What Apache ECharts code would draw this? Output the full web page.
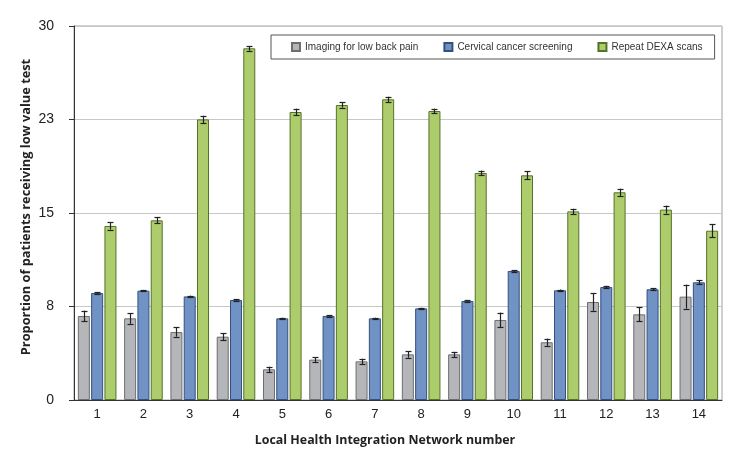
<!DOCTYPE html>
<html><head><meta charset="utf-8">
<script src="https://cdn.jsdelivr.net/npm/echarts@6/dist/echarts.min.js"></script>
<style>html,body{margin:0;padding:0;background:#fff}#c{width:748px;height:474px}</style>
</head><body><div id="c"></div>
<script>
const categories = ['1','2','3','4','5','6','7','8','9','10','11','12','13','14'];
const seriesNames = ['Imaging for low back pain','Cervical cancer screening','Repeat DEXA scans'];
const imaging = [6.74,6.55,5.45,5.08,2.46,3.24,3.10,3.66,3.66,6.42,4.63,7.86,6.87,8.29];
const imagingErr = [0.43,0.43,0.37,0.27,0.21,0.21,0.21,0.27,0.21,0.59,0.29,0.70,0.56,0.96];
const cervical = [8.58,8.77,8.31,8.02,6.55,6.74,6.55,7.35,7.94,10.35,8.80,9.06,8.88,9.44];
const cervicalErr = [0.06,0.06,0.06,0.05,0.05,0.05,0.05,0.05,0.05,0.08,0.06,0.10,0.07,0.16];
const dexa = [13.96,14.41,22.51,28.21,23.10,23.66,24.12,23.18,18.21,18.02,15.13,16.66,15.27,13.58];
const dexaErr = [0.29,0.24,0.29,0.19,0.27,0.21,0.21,0.19,0.19,0.32,0.21,0.29,0.32,0.51];
const yTickLabels = ['0','8','15','23','30'];

const colors = ['#b5b6b9','#7092c5','#adcc6b'];
const borders = ['#6e6e70','#33507f','#55722a'];
const BAR_W = 12, BAR_GAP = 1.3;

const chart = echarts.init(document.getElementById('c'), null, {renderer:'canvas'});

function errSeries(vals, errs, idx) {
  const data = vals.map((v,i)=>[i, v - errs[i], v + errs[i]]);
  return {
    type:'custom', name: seriesNames[idx] + ' err', silent:true, z:10,
    data: data,
    encode:{x:0, y:[1,2]},
    renderItem: function(params, api){
      const x = api.value(0);
      const lo = api.coord([x, api.value(1)]);
      const hi = api.coord([x, api.value(2)]);
      const off = (idx - 1) * (BAR_W + BAR_GAP);
      const cx = Math.round(lo[0] + off) + 0.5;
      const hw = 3;
      const st = {stroke:'#222', lineWidth:1.2};
      return {type:'group', children:[
        {type:'line', shape:{x1:cx, y1:lo[1], x2:cx, y2:hi[1]}, style:st},
        {type:'line', shape:{x1:cx-hw, y1:Math.round(lo[1])+0.5, x2:cx+hw, y2:Math.round(lo[1])+0.5}, style:st},
        {type:'line', shape:{x1:cx-hw, y1:Math.round(hi[1])+0.5, x2:cx+hw, y2:Math.round(hi[1])+0.5}, style:st}
      ]};
    }
  };
}

function barSeries(vals, idx){
  return {
    type:'bar', name: seriesNames[idx], data: vals,
    barWidth: BAR_W, barGap: (BAR_GAP/BAR_W*100).toFixed(1)+'%',
    itemStyle:{color:colors[idx], borderColor:borders[idx], borderWidth:1},
    emphasis:{disabled:true}
  };
}

chart.setOption({
  animation:false,
  textStyle:{fontFamily:'Liberation Sans, Arial, sans-serif'},
  grid:{left:74, right:26, top:26, bottom:74, show:true, borderColor:'#a0a0a0', borderWidth:1},
  legend:{
    data: seriesNames,
    left:271, top:35,
    itemWidth:8, itemHeight:8, itemGap:25,
    padding:[7,12,7,20],
    borderColor:'#555', borderWidth:1,
    icon:'rect',
    textStyle:{fontSize:10, color:'#333', fontFamily:'Liberation Sans, Arial, sans-serif'}
  },
  xAxis:{
    type:'category', data: categories,
    axisLine:{lineStyle:{color:'#333', width:1}},
    axisTick:{show:false},
    axisLabel:{color:'#222', fontSize:13, margin:8},
    name:'Local Health Integration Network number',
    nameLocation:'middle', nameGap:34, nameMoveOverlap:false,
    nameTextStyle:{fontFamily:'Open Sans, Noto Sans, sans-serif', fontWeight:'bold', fontSize:12.4, color:'#222', padding:[0,26,0,0]}
  },
  yAxis:{
    type:'value', min:0, max:30, interval:7.5,
    axisLine:{show:true, lineStyle:{color:'#333', width:1}},
    axisTick:{show:true, length:5, lineStyle:{color:'#333'}},
    axisLabel:{color:'#222', fontSize:14, margin:20,
      formatter: function(v){ return yTickLabels[Math.round(v/7.5)]; }},
    splitLine:{lineStyle:{color:'#c8c8c8', width:1}},
    name:'Proportion of patients receiving low value test',
    nameLocation:'middle', nameGap:41, nameMoveOverlap:false,
    nameTextStyle:{fontFamily:'Open Sans, Noto Sans, sans-serif', fontWeight:'bold', fontSize:12.8, color:'#222', padding:[0,0,0,12]}
  },
  series:[
    barSeries(imaging,0), barSeries(cervical,1), barSeries(dexa,2),
    errSeries(imaging, imagingErr, 0), errSeries(cervical, cervicalErr, 1), errSeries(dexa, dexaErr, 2)
  ]
});
</script></body></html>
